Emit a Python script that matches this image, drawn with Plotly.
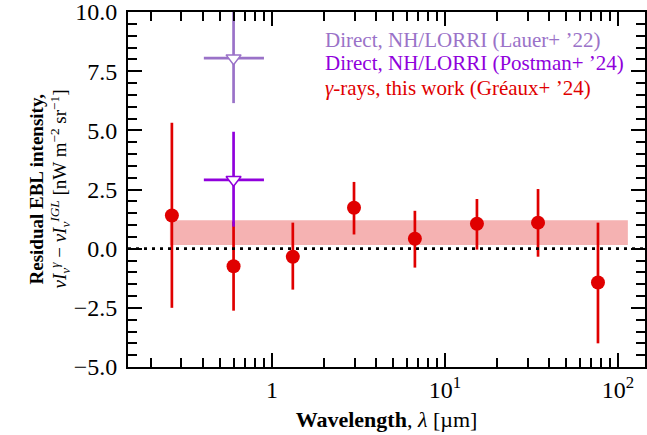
import plotly.graph_objects as go

# --- data ---
lam_gamma = [0.264, 0.60, 1.32, 2.98, 6.7, 15.3, 34.5, 76.6]
res_gamma = [1.40, -0.74, -0.34, 1.73, 0.42, 1.05, 1.10, -1.43]
res_gamma_hi = [5.32, 1.15, 1.10, 2.82, 1.60, 2.10, 2.52, 1.10]
res_gamma_lo = [-2.50, -2.62, -1.73, 0.60, -0.80, -0.04, -0.34, -4.00]

lam_lorri = [0.60]
lam_lorri_lo = [0.404]
lam_lorri_hi = [0.899]
res_lauer = [8.05]
res_lauer_hi = [10.6]
res_lauer_lo = [6.15]
res_postman = [2.91]
res_postman_hi = [4.94]
res_postman_lo = [0.93]

band_lam = [0.257, 114.0]
band_res = [0.15, 1.20]

y_ticks = [-5.0, -2.5, 0.0, 2.5, 5.0, 7.5, 10.0]
x_ticks = [1, 10, 100]
x_ticktext = ["1", "10<sup>1</sup>", "10<sup>2</sup>"]
x_minor = [0.2, 0.3, 0.4, 0.5, 0.6, 0.7, 0.8, 0.9,
           2, 3, 4, 5, 6, 7, 8, 9, 20, 30, 40, 50, 60, 70, 80, 90]

legend_labels = [
    "Direct, NH/LORRI (Lauer+ ’22)",
    "Direct, NH/LORRI (Postman+ ’24)",
    "<i>γ</i>-rays, this work (Gréaux+ ’24)",
]
y_title_lines = [
    "<b>Residual EBL intensity,</b>",
    "<i>νI<sub>ν</sub><sup>γ</sup></i> − <i>νI<sub>ν</sub><sup>IGL</sup></i>"
    " [nW m<sup>−2</sup> sr<sup>−1</sup>]",
]

RED = "#e00000"
LAUER = "#9a72c8"
POSTMAN = "#9000dc"
FONT = "Liberation Serif"


def asym(center, hi, lo):
    return ([h - c for c, h in zip(center, hi)], [c - l for c, l in zip(center, lo)])


fig = go.Figure()

# gamma-ray points
plus, minus = asym(res_gamma, res_gamma_hi, res_gamma_lo)
fig.add_trace(go.Scatter(
    x=lam_gamma, y=res_gamma, mode="markers",
    marker=dict(color=RED, size=14, line=dict(width=0)),
    error_y=dict(type="data", symmetric=False, array=plus, arrayminus=minus,
                 color=RED, thickness=2.7, width=0),
    showlegend=False,
))

# LORRI points
xp, xm = asym(lam_lorri, lam_lorri_hi, lam_lorri_lo)
for res, hi, lo, col in [(res_lauer, res_lauer_hi, res_lauer_lo, LAUER),
                         (res_postman, res_postman_hi, res_postman_lo, POSTMAN)]:
    p, m = asym(res, hi, lo)
    fig.add_trace(go.Scatter(
        x=lam_lorri, y=res, mode="markers",
        marker=dict(symbol="triangle-down", color="white", size=13,
                    line=dict(color=col, width=1.5)),
        error_y=dict(type="data", symmetric=False, array=p, arrayminus=m,
                     color=col, thickness=2.7, width=0),
        error_x=dict(type="data", symmetric=False, array=xp, arrayminus=xm,
                     color=col, thickness=2.7, width=0),
        showlegend=False,
    ))

# residual band
fig.add_shape(type="rect", xref="x", yref="y",
              x0=band_lam[0], x1=band_lam[1], y0=band_res[0], y1=band_res[1],
              fillcolor="#f5b2b2", line=dict(width=0), layer="below")
# zero line
fig.add_shape(type="line", xref="paper", yref="y", x0=0, x1=1, y0=0, y1=0,
              line=dict(color="black", width=2.7, dash="3px,5px"), layer="above")

# legend as coloured text
for i, (txt, col) in enumerate(zip(legend_labels, [LAUER, POSTMAN, RED])):
    fig.add_annotation(text=txt, xref="paper", yref="paper",
                       x=0.378, y=[0.921, 0.856, 0.786][i],
                       xanchor="left", yanchor="middle", showarrow=False,
                       font=dict(family=FONT, size=21, color=col))

# y-axis title (two tightly spaced lines)
for txt, shift in zip(y_title_lines, [-92, -68]):
    fig.add_annotation(text=txt, xref="paper", yref="paper", x=0, y=0.5,
                       xanchor="center", yanchor="middle", xshift=shift,
                       textangle=-90, showarrow=False,
                       font=dict(family=FONT, size=19, color="black"))

axis_common = dict(
    showline=True, linecolor="black", linewidth=2, mirror="allticks",
    ticks="inside", tickcolor="black", tickwidth=1.5, ticklen=14,
    showgrid=False, zeroline=False, ticklabeloverflow="allow",
    automargin=False,
    tickfont=dict(family=FONT, size=24, color="black"),
)

fig.update_xaxes(
    type="log", range=[-0.832, 2.156],
    tickmode="array", tickvals=x_ticks, ticktext=x_ticktext,
    minor=dict(tickmode="array", tickvals=x_minor, ticks="inside", ticklen=9,
               tickwidth=1.5, tickcolor="black", showgrid=False),
    title=dict(text="<b>Wavelength</b>, <i>λ</i> [µm]",
               font=dict(family=FONT, size=22, color="black"), standoff=10),
    **axis_common,
)
fig.update_yaxes(
    range=[-5, 10],
    tickmode="array", tickvals=y_ticks, tickformat=".1f",
    minor=dict(dtick=0.5, ticks="inside", ticklen=9, tickwidth=1.5,
               tickcolor="black", showgrid=False),
    ticklabelstandoff=4,
    **axis_common,
)

fig.update_layout(
    width=647, height=435,
    margin=dict(l=128, r=2, t=12, b=68),
    paper_bgcolor="white", plot_bgcolor="white",
    font=dict(family=FONT, color="black"),
)

# remove the default page margin so the figure fills the window exactly
fig.write_html("out.html",
               config={"displayModeBar": False},
               post_script="document.body.style.margin='0';"
                           "document.body.style.overflow='hidden';")
